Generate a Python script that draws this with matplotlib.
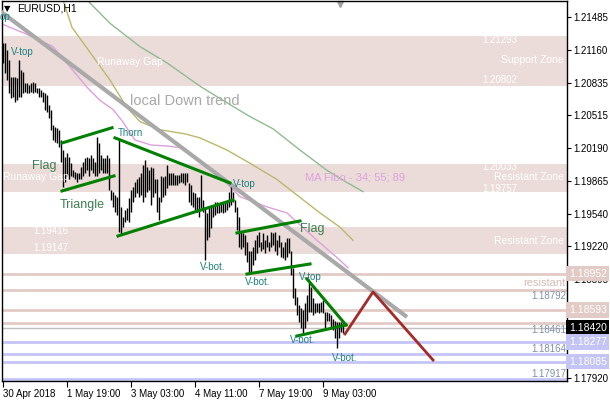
import matplotlib.pyplot as plt

plt.rcParams['font.family'] = ['Liberation Sans', 'DejaVu Sans']

# H1 bars (high / low), one per hour, bar index 0 = 30 Apr 2018
highs = [1.2123, 1.2123, 1.2116, 1.2106, 1.2089, 1.2089, 1.2089, 1.2088, 1.2106, 1.2096,
         1.2094, 1.2083, 1.2083, 1.2081, 1.2083, 1.2084, 1.2083, 1.2078, 1.2078, 1.2076,
         1.2074, 1.2073, 1.2071, 1.2061, 1.2057, 1.2042, 1.2040, 1.2039, 1.2037, 1.2027,
         1.2017, 1.2010, 1.2014, 1.2010, 1.2004, 1.1997, 1.1995, 1.1994, 1.1994, 1.2000,
         1.2005, 1.2009, 1.2010, 1.2009, 1.2012, 1.2009, 1.2005, 1.2030, 1.2024, 1.2012,
         1.2009, 1.2009, 1.2012, 1.2009, 1.1978, 1.1976, 1.1973, 1.1971, 1.2029, 1.1961,
         1.1951, 1.1958, 1.1960, 1.1970, 1.1978, 1.1981, 1.1986, 1.1988, 1.1990, 1.1994,
         1.2002, 1.2007, 1.2000, 1.1997, 1.2000, 1.1999, 1.1988, 1.1988, 1.1971, 1.1991,
         1.1990, 1.1991, 1.2002, 1.1994, 1.1994, 1.1994, 1.1992, 1.1992, 1.1992, 1.1994,
         1.1994, 1.1994, 1.1994, 1.1985, 1.1983, 1.1976, 1.1975, 1.1971, 1.1971, 1.1992,
         1.1968, 1.1961, 1.1955, 1.1960, 1.1961, 1.1963, 1.1966, 1.1966, 1.1965, 1.1966,
         1.1965, 1.1966, 1.1966, 1.1976, 1.1983, 1.1976, 1.1968, 1.1961, 1.1951, 1.1936,
         1.1935, 1.1933, 1.1926, 1.1917, 1.1917, 1.1921, 1.1928, 1.1933, 1.1936, 1.1926,
         1.1935, 1.1928, 1.1933, 1.1926, 1.1936, 1.1935, 1.1936, 1.1928, 1.1933, 1.1926,
         1.1921, 1.1926, 1.1930, 1.1930, 1.1917, 1.1901, 1.1881, 1.1872, 1.1864, 1.1861,
         1.1859, 1.1866, 1.1874, 1.1886, 1.1882, 1.1871, 1.1866, 1.1866, 1.1866, 1.1867,
         1.1869, 1.1857, 1.1857, 1.1856, 1.1854, 1.1850, 1.1848, 1.1847, 1.1847, 1.1847,
         1.1845]
lows = [1.2103, 1.2093, 1.2086, 1.2073, 1.2068, 1.2069, 1.2064, 1.2066, 1.2069, 1.2069,
        1.2073, 1.2074, 1.2073, 1.2073, 1.2074, 1.2073, 1.2074, 1.2073, 1.2069, 1.2069,
        1.2064, 1.2057, 1.2055, 1.2049, 1.2037, 1.2027, 1.2025, 1.2024, 1.2020, 1.2005,
        1.1981, 1.1986, 1.1991, 1.1988, 1.1991, 1.1990, 1.1988, 1.1986, 1.1988, 1.1988,
        1.1991, 1.1994, 1.1997, 1.1991, 1.1997, 1.1994, 1.1991, 1.1991, 1.1994, 1.1997,
        1.1994, 1.1994, 1.1994, 1.1978, 1.1968, 1.1961, 1.1956, 1.1953, 1.1936, 1.1934,
        1.1941, 1.1946, 1.1948, 1.1946, 1.1956, 1.1966, 1.1971, 1.1975, 1.1971, 1.1973,
        1.1966, 1.1971, 1.1976, 1.1978, 1.1963, 1.1971, 1.1975, 1.1956, 1.1948, 1.1966,
        1.1971, 1.1973, 1.1980, 1.1983, 1.1983, 1.1983, 1.1983, 1.1983, 1.1985, 1.1986,
        1.1985, 1.1983, 1.1986, 1.1966, 1.1963, 1.1961, 1.1958, 1.1956, 1.1951, 1.1960,
        1.1956, 1.1909, 1.1928, 1.1931, 1.1940, 1.1951, 1.1953, 1.1955, 1.1955, 1.1956,
        1.1955, 1.1956, 1.1958, 1.1961, 1.1963, 1.1966, 1.1956, 1.1938, 1.1921, 1.1919,
        1.1921, 1.1914, 1.1907, 1.1896, 1.1897, 1.1904, 1.1909, 1.1916, 1.1921, 1.1917,
        1.1919, 1.1916, 1.1921, 1.1917, 1.1921, 1.1923, 1.1917, 1.1914, 1.1921, 1.1912,
        1.1911, 1.1909, 1.1912, 1.1916, 1.1894, 1.1871, 1.1864, 1.1854, 1.1847, 1.1842,
        1.1837, 1.1842, 1.1848, 1.1857, 1.1857, 1.1854, 1.1856, 1.1857, 1.1856, 1.1857,
        1.1856, 1.1842, 1.1848, 1.1848, 1.1843, 1.1840, 1.1832, 1.1822, 1.1832, 1.1838,
        1.1837]
bar_idx = list(range(len(highs)))

# time axis
time_ticks = [0, 32, 64, 96, 128, 160]
time_labels = ['30 Apr 2018', '1 May 19:00', '3 May 03:00', '4 May 11:00',
               '7 May 19:00', '9 May 03:00']
price_ticks = [1.21485, 1.21160, 1.20835, 1.20515, 1.20190, 1.19865,
               1.19540, 1.19220, 1.18895, 1.18570, 1.18245, 1.17920]
# 1.18570 sits fully under the 1.18593 price box, so no label for it
price_labels = ['%.5f' % p if p != 1.18570 else '' for p in price_ticks]

# MA Fibo 34 / 55 / 89
ma34_x = [0, 3.5, 11, 25, 33.5, 42, 48.5, 55, 59.5, 66, 74, 82, 90, 99, 110, 118.5,
          132, 142, 157, 167, 172.5]
ma34_y = [1.2141, 1.2138, 1.2132, 1.2119, 1.2099, 1.2079, 1.2066, 1.2057, 1.2046, 1.2027,
          1.2022, 1.2021, 1.2019, 1.2005, 1.1988, 1.1971, 1.1961, 1.1955, 1.1928, 1.1911,
          1.1901]
ma55_x = [27.5, 30, 34.5, 40, 53.5, 62, 68.5, 78.5, 91, 98.5, 112, 123.5, 137, 150,
          158.5, 168.5, 175]
ma55_y = [1.2175, 1.2165, 1.2138, 1.2123, 1.2086, 1.2059, 1.2045, 1.2037, 1.2033, 1.2029,
          1.2017, 1.2004, 1.1988, 1.1968, 1.1955, 1.1941, 1.1928]
ma89_x = [38.5, 42, 53.5, 68.5, 82, 98.5, 110, 123.5, 135, 148.5, 162, 172, 180]
ma89_y = [1.2173, 1.2165, 1.2142, 1.2119, 1.2103, 1.2080, 1.2066, 1.2050, 1.2038, 1.2017,
          1.1997, 1.1985, 1.1976]

# zones and levels
zones = [(1.20802, 1.21293), (1.19757, 1.20033), (1.19147, 1.19416)]
res_levels = [1.18952, 1.18792, 1.18593, 1.18461]
sup_levels = [1.18277, 1.18164, 1.18085, 1.17917]
last_price = 1.18420

# trend line and pattern lines: (x0, x1), (y0, y1)
trend_x, trend_y = [-1.5, 202], [1.21542, 1.18524]
pattern_lines = [
    ([29.5, 54.5], [1.2024, 1.2039]),    # flag 1 upper
    ([29.5, 55.5], [1.19767, 1.19915]),  # flag 1 lower
    ([56, 113.5], [1.2029, 1.19846]),    # triangle upper
    ([57.5, 115], [1.19323, 1.19678]),   # triangle lower
    ([117, 148.5], [1.19353, 1.19471]),  # flag 2 upper
    ([122, 153.5], [1.18948, 1.19047]),  # flag 2 lower
    ([152, 171.5], [1.18899, 1.18445]),  # last triangle upper
    ([147, 171.5], [1.18337, 1.18445]),  # last triangle lower
]
proj_x = [171, 185, 215]
proj_y = [1.18357, 1.18771, 1.18100]

fig = plt.figure(figsize=(6.1, 4.0), dpi=100)
ax = fig.add_axes([2 / 610, 19 / 400, 564.5 / 610, 380 / 400])
ax.set_xlim(-0.5, 281.75)
ax.set_ylim(1.17893, 1.21640)

zone_col = '#EBDCD9'
for lo, hi in zones:
    ax.axhspan(lo, hi, color=zone_col, lw=0, zorder=0)
for lvl in res_levels:
    ax.axhline(lvl, color='#E2CBC6', lw=2, zorder=1)
for lvl in sup_levels:
    ax.axhline(lvl, color='#C4C4F6', lw=2, zorder=1)
ax.axhline(last_price, color='#C0C0C0', lw=1, zorder=1)

# moving averages
ax.plot(ma34_x, ma34_y, color='#DDA0DD', lw=1, zorder=2)
ax.plot(ma55_x, ma55_y, color='#BDB76B', lw=1, zorder=2)
ax.plot(ma89_x, ma89_y, color='#8FBC8F', lw=1, zorder=2)

# price bars
ax.vlines(bar_idx, lows, highs, color='black', lw=1, zorder=3)

ax.plot(trend_x, trend_y, color='#A9A9A9', lw=3, zorder=3.5, solid_capstyle='butt')
for xs, ys in pattern_lines:
    ax.plot(xs, ys, color='#008000', lw=2.2, zorder=4)
ax.plot(proj_x, proj_y, color='#A52A2A', lw=2, zorder=4)

# zone labels
white = 'white'
ax.text(257, 1.2126, '1.21293', color=white, fontsize=7, ha='right', va='center')
ax.text(257, 1.2086, '1.20802', color=white, fontsize=7, ha='right', va='center')
ax.text(280.5, 1.2106, 'Support Zone', color=white, fontsize=7.5, ha='right', va='center')
ax.text(257, 1.2000, '1.20033', color=white, fontsize=7, ha='right', va='center')
ax.text(257, 1.1979, '1.19757', color=white, fontsize=7, ha='right', va='center')
ax.text(280.5, 1.1990, 'Resistant Zone', color=white, fontsize=7.5, ha='right', va='center')
ax.text(280.5, 1.1927, 'Resistant Zone', color=white, fontsize=7.5, ha='right', va='center')
ax.text(15, 1.1937, '1.19416', color=white, fontsize=7, ha='left', va='center')
ax.text(15, 1.1920, '1.19147', color=white, fontsize=7, ha='left', va='center')
ax.text(47, 1.2104, 'Runaway Gap', color=white, fontsize=7.5, ha='left', va='center')
ax.text(0, 1.1990, 'Runaway Gap', color=white, fontsize=7.5, ha='left', va='center')

# level labels
ax.text(281, 1.1886, 'resistant', color='#D4BCB8', fontsize=8, ha='right', va='center')
lvl_col = '#8090A8'
ax.text(281.5, 1.1873, '1.18792', color=lvl_col, fontsize=7, ha='right', va='center')
ax.text(281.5, 1.1840, '1.18461', color=lvl_col, fontsize=7, ha='right', va='center')
ax.text(281.5, 1.1821, '1.18164', color=lvl_col, fontsize=7, ha='right', va='center')
ax.text(281.5, 1.1796, '1.17917', color=lvl_col, fontsize=7, ha='right', va='center')

# annotations
ax.text(63.5, 1.2065, 'local Down trend', color='#A8A8A8', fontsize=10.5, ha='left', va='center')
ax.text(151, 1.1990, 'MA Fibo - 34; 55; 89', color='#E0A0E0', fontsize=8, ha='left', va='center')
pat_col = '#3C7F50'
ax.text(14.5, 1.2001, 'Flag', color=pat_col, fontsize=9, ha='left', va='center')
ax.text(28.5, 1.1963, 'Triangle', color=pat_col, fontsize=9, ha='left', va='center')
ax.text(148.5, 1.1939, 'Flag', color=pat_col, fontsize=9, ha='left', va='center')
v_col = '#1F7F7F'
v_labels = [(4, 1.2114, 'V-top'), (-1.5, 1.2148, 'op'), (57.5, 1.2034, 'Thorn'),
            (115, 1.1984, 'V-top'), (98.5, 1.1902, 'V-bot.'), (121, 1.1887, 'V-bot.'),
            (148, 1.1892, 'V-top'), (143.5, 1.1830, 'V-bot.'), (164.5, 1.1812, 'V-bot.')]
for x, y, s in v_labels:
    ax.text(x, y, s, color=v_col, fontsize=7, ha='left', va='center', zorder=5)

# header
ax.text(0.0089, 0.979, '\u25bc', transform=ax.transAxes, fontsize=6, family='DejaVu Sans',
        ha='center', va='center')
ax.text(0.0266, 0.979, 'EURUSD,H1', transform=ax.transAxes, fontsize=7.5,
        ha='left', va='center')
ax.plot([168.5], [1.2161], marker='v', color='#A0A0A0', ms=5, clip_on=False)

# axes
ax.yaxis.tick_right()
ax.set_yticks(price_ticks)
ax.set_yticklabels(price_labels)
ax.set_xticks(time_ticks)
ax.set_xticklabels(time_labels)
for lbl in ax.get_xticklabels():
    lbl.set_horizontalalignment('left')
ax.tick_params(axis='y', direction='out', length=3, labelsize=7, pad=2)
ax.tick_params(axis='x', direction='out', length=4, labelsize=7, pad=2)
for sp in ax.spines.values():
    sp.set_color('black')
    sp.set_linewidth(1)

# price boxes on the right scale
boxes = [(1.18952, '#E2CBC6'), (1.18593, '#E2CBC6'), (1.18420, 'black'),
         (1.18277, '#C4C4F6'), (1.18085, '#C4C4F6')]
for lvl, bg in boxes:
    ax.text(1.004, lvl, '%.5f' % lvl, transform=ax.get_yaxis_transform(), ha='left',
            va='center', fontsize=7.5, color='white', clip_on=False, zorder=6,
            bbox=dict(boxstyle='square,pad=0.25', fc=bg, ec='none'))

fig.savefig('out.png', dpi=100)
